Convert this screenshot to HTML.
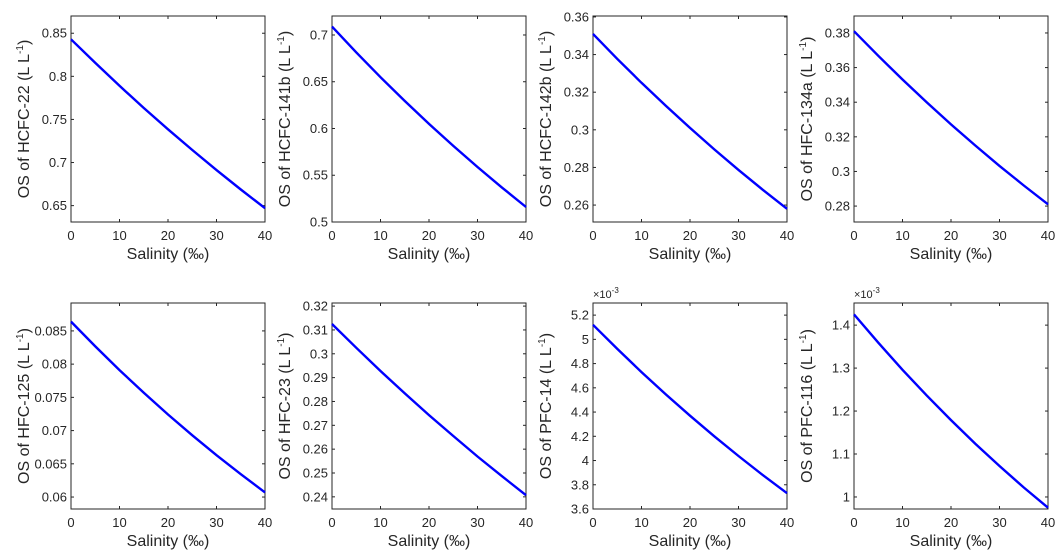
<!DOCTYPE html>
<html><head><meta charset="utf-8"><style>
body{margin:0;background:#fff;width:1056px;height:560px;overflow:hidden}
svg{display:block;font-family:"Liberation Sans",Arial,sans-serif}
</style></head><body>
<svg id="fig" width="1056" height="560" viewBox="0 0 1056 560"></svg>
<script>
const salinity=[0,5,10,15,20,25,30,35,40];
const names=["HCFC-22","HCFC-141b","HCFC-142b","HFC-134a","HFC-125","HFC-23","PFC-14","PFC-116"];
const s1=[.843,.8156,.7890,.7633,.7385,.7145,.6912,.6687,.647];
const s2=[.709,.6814,.6549,.6294,.6049,.5814,.5588,.5370,.516];
const s3=[.351,.3377,.3250,.3128,.3010,.2896,.2787,.2681,.258];
const s4=[.381,.3668,.3531,.3399,.3272,.3150,.3032,.2919,.281];
const s5=[.0864,.08267,.07910,.07569,.07242,.06929,.06630,.06344,.0607];
const s6=[.3125,.3025,.2928,.2834,.2743,.2655,.2569,.2487,.2407];
const s7=[5.12,4.921,4.730,4.546,4.370,4.200,4.037,3.880,3.73];
const s8=[1.425,1.359,1.296,1.236,1.179,1.124,1.072,1.022,.975];
const series=[s1,s2,s3,s4,s5,s6,s7,s8];
const ylims=[[.631,.870],[.5,.7203],[.251,.3605],[.2708,.3898],[.0582,.0892],[.2349,.3213],[3.6,5.30],[.972,1.4515]];
const yt1=[.65,.7,.75,.8,.85], yt2=[.5,.55,.6,.65,.7], yt3=[.26,.28,.3,.32,.34,.36], yt4=[.28,.3,.32,.34,.36,.38];
const yt5=[.06,.065,.07,.075,.08,.085], yt6=[.24,.25,.26,.27,.28,.29,.3,.31,.32], yt7=[3.6,3.8,4,4.2,4.4,4.6,4.8,5,5.2], yt8=[1,1.1,1.2,1.3,1.4];
const yticks=[yt1,yt2,yt3,yt4,yt5,yt6,yt7,yt8];
const xticks=[0,10,20,30,40];
const NS="http://www.w3.org/2000/svg";
const svg=document.getElementById('fig');
function mk(tag,attrs,parent){const e=document.createElementNS(NS,tag);for(const k in attrs)e.setAttribute(k,attrs[k]);(parent||svg).appendChild(e);return e;}
const lefts=[71,332,593,854], tops=[16,303], W=194, H=206;
for(let i=0;i<8;i++){
  const L=lefts[i%4], T=tops[Math.floor(i/4)];
  const g=mk('g',{});
  
  
  const [y0,y1]=ylims[i];
  const xs=v=>L+v/40*W, ys=v=>T+H-(v-y0)/(y1-y0)*H;
  const ax=mk('rect',{x:L,y:T,width:W,height:H,fill:'#fff',stroke:'#262626','stroke-width':1},g);
  
  
  xticks.forEach(t=>{
    const x=xs(t);
    mk('line',{x1:x,x2:x,y1:T+H,y2:T+H-3,stroke:'#262626'},g);
    mk('line',{x1:x,x2:x,y1:T,y2:T+3,stroke:'#262626'},g);
    const tx=mk('text',{x:x,y:T+H+18,'text-anchor':'middle','font-size':13,fill:'#262626'},g);
    tx.textContent=t;
    
    
  });
  yticks[i].forEach(t=>{
    const y=ys(t);
    mk('line',{x1:L,x2:L+3,y1:y,y2:y,stroke:'#262626'},g);
    mk('line',{x1:L+W,x2:L+W-3,y1:y,y2:y,stroke:'#262626'},g);
    const tx=mk('text',{x:L-4,y:y+4.5,'text-anchor':'end','font-size':13,fill:'#262626'},g);
    tx.textContent=String(+t.toFixed(4));
    
    
  });
  if(i>=6){
    const ex=mk('text',{x:L,y:T-5,'font-size':11,fill:'#262626'},g);
    ex.innerHTML='×10<tspan dy="-5" font-size="8">-3</tspan>';
    
    
  }
  const pts=series[i].map((v,j)=>xs(salinity[j]).toFixed(1)+','+ys(v).toFixed(1)).join(' ');
  const pl=mk('polyline',{points:pts,fill:'none',stroke:'#0000ff','stroke-width':2.4},g);
  
  
  const xl=mk('text',{x:L+W/2,y:T+H+37,'text-anchor':'middle','font-size':16,fill:'#262626'},g);
  xl.textContent='Salinity (‰)';
  
  
  const cx=L-42, cy=T+H/2;
  const yl=mk('text',{x:cx,y:cy,'text-anchor':'middle','font-size':16,fill:'#262626',transform:`rotate(-90 ${cx} ${cy})`},g);
  yl.innerHTML='OS of '+names[i]+' (L L<tspan dy="-6" font-size="10">-1</tspan><tspan dy="6">)</tspan>';
  
  
}
</script>
</body></html>
